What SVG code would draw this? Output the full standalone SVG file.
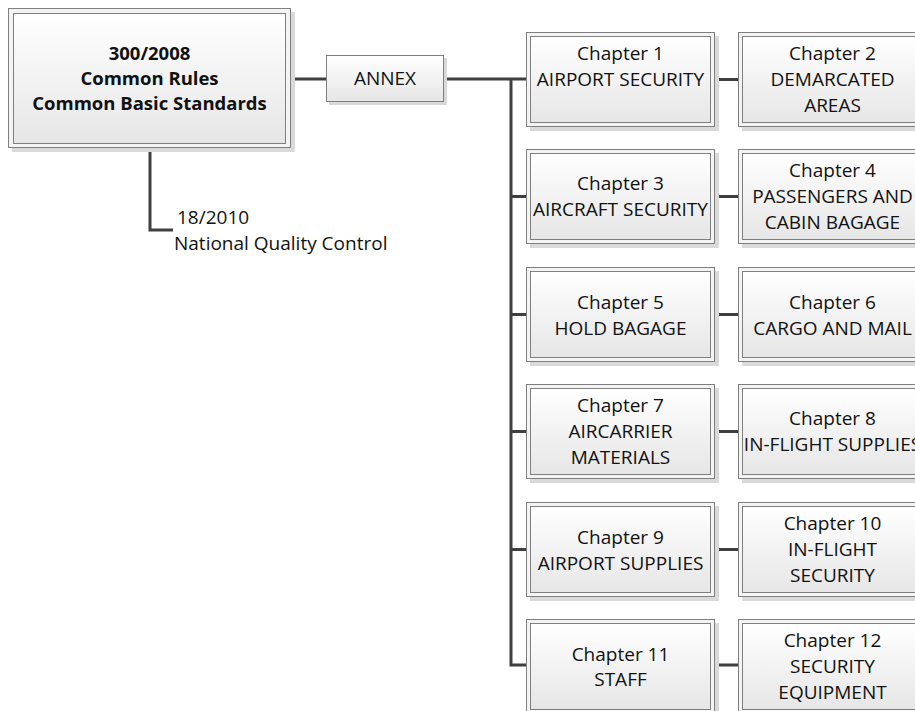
<svg xmlns="http://www.w3.org/2000/svg" width="915" height="711" viewBox="0 0 915 711">
<defs>
<linearGradient id="g" x1="0" y1="0" x2="0" y2="1">
<stop offset="0" stop-color="#ffffff"/>
<stop offset="1" stop-color="#e6e6e6"/>
</linearGradient>
<style>
.sh{fill:#d9d9d9}
.o{fill:#f4f4f4;stroke:#7f7f7f;stroke-width:1}
.i{fill:url(#g);stroke:#7f7f7f;stroke-width:1}
.t{font-family:"Open Sans","Liberation Sans",sans-serif;font-size:19px;fill:#111;text-anchor:middle}
.b{font-weight:700;font-size:18.5px}
.l{text-anchor:start}
.c{fill:none;stroke:#3f3f3f;stroke-width:3}
</style>
</defs>
<rect width="915" height="711" fill="#ffffff"/>
<g id="connectors">
<path class="c" d="M291 79H326M444 79H526M511 79V665H526M511 196.5H526M511 314.5H526M511 431.5H526M511 549.5H526"/>
<path class="c" d="M715 79.5H738M715 196.5H738M715 314.5H738M715 431.5H738M715 549.5H738M715 665H738"/>
<path class="c" d="M150 148V230H173"/>
</g>
<g id="main">
<rect class="sh" x="12" y="12" width="283" height="140"/>
<rect class="o" x="8.5" y="8.5" width="282" height="139"/>
<rect class="i" x="13.5" y="13.5" width="272" height="130"/>
<text class="t b" x="149.5" y="60">300/2008</text>
<text class="t b" x="149.5" y="85">Common Rules</text>
<text class="t b" x="149.5" y="110">Common Basic Standards</text>
</g>
<g id="sub">
<text class="t l" x="177" y="224">18/2010</text>
<text class="t l" x="174" y="250">National Quality Control</text>
</g>
<g id="annex">
<rect class="sh" x="329" y="58" width="118" height="47"/>
<rect class="i" x="326.5" y="55.5" width="117" height="46"/>
<text class="t" x="385" y="85">ANNEX</text>
</g>
<g id="ch1" transform="translate(526,32)">
<rect class="sh" x="4" y="4" width="189" height="95"/><rect class="o" x="0.5" y="0.5" width="188" height="94"/><rect class="i" x="4.5" y="4.5" width="180" height="86"/>
<text class="t" x="94.5" y="28">Chapter 1</text><text class="t" x="94.5" y="54">AIRPORT SECURITY</text>
</g>
<g id="ch2" transform="translate(738,32)">
<rect class="sh" x="4" y="4" width="189" height="95"/><rect class="o" x="0.5" y="0.5" width="188" height="94"/><rect class="i" x="4.5" y="4.5" width="180" height="86"/>
<text class="t" x="94.5" y="28">Chapter 2</text><text class="t" x="94.5" y="54">DEMARCATED</text><text class="t" x="94.5" y="80">AREAS</text>
</g>
<g id="ch3" transform="translate(526,149)">
<rect class="sh" x="4" y="4" width="189" height="95"/><rect class="o" x="0.5" y="0.5" width="188" height="94"/><rect class="i" x="4.5" y="4.5" width="180" height="86"/>
<text class="t" x="94.5" y="41">Chapter 3</text><text class="t" x="94.5" y="67">AIRCRAFT SECURITY</text>
</g>
<g id="ch4" transform="translate(738,149)">
<rect class="sh" x="4" y="4" width="189" height="95"/><rect class="o" x="0.5" y="0.5" width="188" height="94"/><rect class="i" x="4.5" y="4.5" width="180" height="86"/>
<text class="t" x="94.5" y="28">Chapter 4</text><text class="t" x="94.5" y="54">PASSENGERS AND</text><text class="t" x="94.5" y="80">CABIN BAGAGE</text>
</g>
<g id="ch5" transform="translate(526,267)">
<rect class="sh" x="4" y="4" width="189" height="95"/><rect class="o" x="0.5" y="0.5" width="188" height="94"/><rect class="i" x="4.5" y="4.5" width="180" height="86"/>
<text class="t" x="94.5" y="42">Chapter 5</text><text class="t" x="94.5" y="68">HOLD BAGAGE</text>
</g>
<g id="ch6" transform="translate(738,267)">
<rect class="sh" x="4" y="4" width="189" height="95"/><rect class="o" x="0.5" y="0.5" width="188" height="94"/><rect class="i" x="4.5" y="4.5" width="180" height="86"/>
<text class="t" x="94.5" y="42">Chapter 6</text><text class="t" x="94.5" y="68">CARGO AND MAIL</text>
</g>
<g id="ch7" transform="translate(526,384)">
<rect class="sh" x="4" y="4" width="189" height="95"/><rect class="o" x="0.5" y="0.5" width="188" height="94"/><rect class="i" x="4.5" y="4.5" width="180" height="86"/>
<text class="t" x="94.5" y="28">Chapter 7</text><text class="t" x="94.5" y="54">AIRCARRIER</text><text class="t" x="94.5" y="80">MATERIALS</text>
</g>
<g id="ch8" transform="translate(738,384)">
<rect class="sh" x="4" y="4" width="189" height="95"/><rect class="o" x="0.5" y="0.5" width="188" height="94"/><rect class="i" x="4.5" y="4.5" width="180" height="86"/>
<text class="t" x="94.5" y="41">Chapter 8</text><text class="t" x="94.5" y="67">IN-FLIGHT SUPPLIES</text>
</g>
<g id="ch9" transform="translate(526,502)">
<rect class="sh" x="4" y="4" width="189" height="95"/><rect class="o" x="0.5" y="0.5" width="188" height="94"/><rect class="i" x="4.5" y="4.5" width="180" height="86"/>
<text class="t" x="94.5" y="42">Chapter 9</text><text class="t" x="94.5" y="68">AIRPORT SUPPLIES</text>
</g>
<g id="ch10" transform="translate(738,502)">
<rect class="sh" x="4" y="4" width="189" height="95"/><rect class="o" x="0.5" y="0.5" width="188" height="94"/><rect class="i" x="4.5" y="4.5" width="180" height="86"/>
<text class="t" x="94.5" y="28">Chapter 10</text><text class="t" x="94.5" y="54">IN-FLIGHT</text><text class="t" x="94.5" y="80">SECURITY</text>
</g>
<g id="ch11" transform="translate(526,619)">
<rect class="sh" x="4" y="4" width="189" height="95"/><rect class="o" x="0.5" y="0.5" width="188" height="94"/><rect class="i" x="4.5" y="4.5" width="180" height="86"/>
<text class="t" x="94.5" y="42">Chapter 11</text><text class="t" x="94.5" y="67">STAFF</text>
</g>
<g id="ch12" transform="translate(738,619)">
<rect class="sh" x="4" y="4" width="189" height="95"/><rect class="o" x="0.5" y="0.5" width="188" height="94"/><rect class="i" x="4.5" y="4.5" width="180" height="86"/>
<text class="t" x="94.5" y="28">Chapter 12</text><text class="t" x="94.5" y="54">SECURITY</text><text class="t" x="94.5" y="80">EQUIPMENT</text>
</g>
</svg>
